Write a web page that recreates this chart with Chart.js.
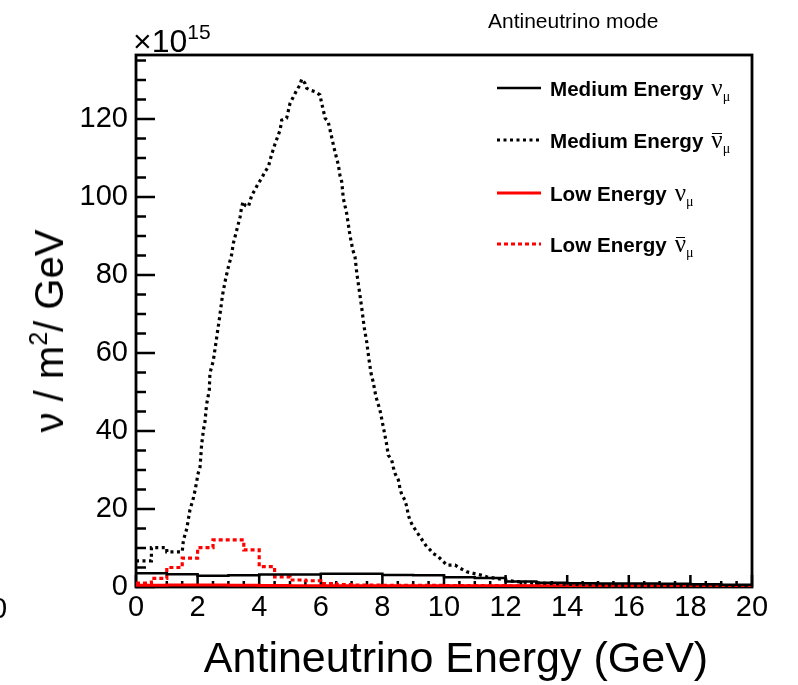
<!DOCTYPE html>
<html><head><meta charset="utf-8">
<script src="https://cdn.jsdelivr.net/npm/chart.js@4.4.1/dist/chart.umd.min.js"></script>
<style>
html,body{margin:0;padding:0;background:#fff;}
#wrap{position:relative;width:798px;height:685px;overflow:hidden;font-family:"Liberation Sans",Arial,Helvetica,sans-serif;color:#000;background:#fff;}
canvas{position:absolute;left:0;top:0;}
.t{position:absolute;white-space:nowrap;line-height:1;}
.leg{position:absolute;white-space:nowrap;line-height:1;font-size:20.6px;font-weight:bold;left:550px;}
.nu{font-family:"Liberation Serif","DejaVu Serif",serif;font-weight:normal;font-size:25px;margin-left:8px;}
.nu sub{font-size:14px;vertical-align:baseline;position:relative;top:5px;}
.bar{position:relative;display:inline-block;line-height:1;}
.bar::before{content:'';position:absolute;left:1px;right:1px;top:6px;border-top:1.6px solid #000;}
</style></head><body>
<div id="wrap">
<canvas id="c" width="798" height="685"></canvas>
<div class="t" style="left:488px;top:10px;font-size:21px;">Antineutrino mode</div>
<div class="t" style="left:133px;top:25px;font-size:32px;">×10<span style="font-size:21px;position:relative;top:-13px;">15</span></div>
<div class="leg" style="top:75px;">Medium Energy<span class="nu">ν<sub>μ</sub></span></div>
<div class="leg" style="top:127px;">Medium Energy<span class="nu"><span class="bar">ν</span><sub>μ</sub></span></div>
<div class="leg" style="top:180px;">Low Energy<span class="nu">ν<sub>μ</sub></span></div>
<div class="leg" style="top:231px;">Low Energy<span class="nu"><span class="bar">ν</span><sub>μ</sub></span></div>
<div class="t" style="left:49px;top:331px;font-size:40px;transform:translate(-50%,-50%) rotate(-90deg);">ν / m<span style="font-size:25px;position:relative;top:-16px;">2</span>/ GeV</div>
<div class="t" style="left:456px;top:636px;font-size:43px;transform:translateX(-50%);">Antineutrino Energy (GeV)</div>
<div class="t" style="left:-9px;top:594px;font-size:29px;">0</div>
</div>
<script>
// ---- data (energies in GeV, flux in units of 1e15 nu/m^2/GeV) ----
const xTicks = [0, 2, 4, 6, 8, 10, 12, 14, 16, 18, 20];
const yTicks = [0, 20, 40, 60, 80, 100, 120];
const yMax = 136.4;

// Medium Energy nu_mu (1 GeV bins, starting edges)
const meNumuEdges = [0,1,2,3,4,5,6,7,8,9,10,11,12,13,14,15,16,17,18,19,20];
const meNumuVals  = [3.5,3.3,2.9,3.0,3.2,3.2,3.4,3.4,3.1,3.0,2.5,2.3,1.4,1.1,0.95,0.9,0.9,0.85,0.7,0.6];

// Medium Energy anti-nu_mu
const meAntiE = [0,0.5,0.5,1.0,1.0,1.5,1.54,1.65,1.75,1.86,1.92,2.02,2.08,2.13,2.19,2.24,2.29,2.38,2.40,2.51,2.62,2.71,2.81,2.91,3.0,3.1,3.16,3.27,3.38,3.43,3.48,3.55,3.65,3.76,3.86,3.97,4.08,4.19,4.30,4.40,4.51,4.62,4.68,4.73,4.89,4.94,5.0,5.11,5.22,5.32,5.38,5.49,5.54,5.65,5.81,5.97,6.03,6.08,6.14,6.24,6.30,6.41,6.46,6.57,6.62,6.68,6.73,6.84,6.95,7.04,7.11,7.17,7.25,7.33,7.41,7.49,7.56,7.63,7.70,7.79,7.92,8.03,8.14,8.19,8.30,8.35,8.41,8.52,8.57,8.63,8.73,8.79,8.84,8.90,9.0,9.11,9.22,9.33,9.44,9.55,9.65,9.81,9.98,10.09,10.36,10.52,10.74,10.95,11.17,11.39,11.71,12.0,12.3,12.7,13.2,14,15,16,17,18,19,20];
const meAntiV = [6.7,6.7,10.1,10.1,9.0,9.0,12,15,19.7,22.7,24.9,29.2,30.8,36.4,40.3,42.4,46.7,50.5,54.8,58,64,68.9,74.9,79,82.1,85,88.1,91.5,94.9,97.5,98.8,97.8,97.5,100.5,101.8,103.5,104.8,106.5,107.8,110.8,113.5,115.9,117.2,119.7,120.2,121.9,124,125.7,127.4,128.7,130.2,129.1,127.9,127.4,127,126.2,124,122.3,120.2,119.3,117.2,113.3,111.6,108.2,105.6,103.9,99.7,95.8,90,86.4,84.7,80.4,76,71.5,66.5,62.9,58.6,54.8,52.6,48.8,45.4,41,36.5,33.8,32.6,30.8,29.1,27.4,25.3,23.6,22.3,20.6,18.5,17,15.5,14.2,12.9,11.6,10.3,9.5,8.6,7.8,6.5,5.6,5.6,4.8,3.9,3.5,3.1,2.6,2.2,1.8,1.4,1.2,1.0,0.7,0.5,0.4,0.3,0.25,0.2,0.15];

// Low Energy nu_mu (1 GeV bins)
const leNumuEdges = [0,1,2,3,4,5,6,7,8,9,10,11,12,13,14,15,16,17,18,19,20];
const leNumuVals  = [0.45,0.5,0.5,0.45,0.4,0.35,0.3,0.3,0.3,0.3,0.3,0.3,0.3,0.3,0.3,0.3,0.3,0.3,0.3,0.3];

// Low Energy anti-nu_mu (0.5 GeV bins)
const leAntiEdges = [0,0.5,1,1.5,2,2.5,3,3.5,4,4.5,5,5.5,6,6.5,7,8,10,12,14,16,20];
const leAntiVals  = [1.0,2.2,5.0,7.4,10.1,12.1,12.1,9.5,5.2,2.6,1.8,1.6,0.9,0.6,0.5,0.4,0.35,0.3,0.3,0.25];

function stepPts(edges, vals){
  const pts = vals.map((v,i)=>({x:edges[i], y:v}));
  pts.push({x:edges[edges.length-1], y:vals[vals.length-1]});
  return pts;
}
const FONT = '"Liberation Sans", Arial, Helvetica, sans-serif';

const rootFrame = {
  id:'rootFrame',
  beforeDatasetsDraw(chart){
    const {ctx, chartArea:{left,right,top,bottom}, scales:{x,y}} = chart;
    ctx.save();
    ctx.strokeStyle='#000'; ctx.lineWidth=2.8; ctx.lineCap='butt';
    ctx.strokeRect(left,top,right-left,bottom-top);
    ctx.beginPath();
    ctx.lineWidth=2.5;
    for(let i=0;i<=40;i++){
      const v=i*0.5, px=x.getPixelForValue(v), len=(i%4===0)?12:6;
      ctx.moveTo(px,bottom); ctx.lineTo(px,bottom-len);
    }
    for(let i=0;i*5<=yMax;i++){
      const v=i*5, py=y.getPixelForValue(v), len=(i%4===0)?19:10;
      ctx.moveTo(left,py); ctx.lineTo(left+len,py);
    }
    ctx.stroke();
    ctx.restore();
  }
};
const legendRows = [88,140,193,244];
const legendLines = {
  id:'legendLines',
  afterDatasetsDraw(chart){
    const ctx=chart.ctx;
    chart.data.datasets.forEach((ds,i)=>{
      ctx.save();
      ctx.strokeStyle=ds.borderColor; ctx.lineWidth=ds.borderWidth;
      ctx.setLineDash(ds.borderDash||[]);
      ctx.beginPath(); ctx.moveTo(497,legendRows[i]); ctx.lineTo(541,legendRows[i]); ctx.stroke();
      ctx.restore();
    });
  }
};

new Chart(document.getElementById('c'), {
  type:'line',
  data:{datasets:[
    {label:'Medium Energy ν_μ', data:stepPts(meNumuEdges,meNumuVals), stepped:'before', borderColor:'#000', borderWidth:2.5, borderDash:[]},
    {label:'Medium Energy anti-ν_μ', data:meAntiE.map((e,i)=>({x:e,y:meAntiV[i]})), borderColor:'#000', borderWidth:3.2, borderDash:[3,3.5]},
    {label:'Low Energy ν_μ', data:stepPts(leNumuEdges,leNumuVals), stepped:'before', borderColor:'#ff0000', borderWidth:3, borderDash:[]},
    {label:'Low Energy anti-ν_μ', data:stepPts(leAntiEdges,leAntiVals), stepped:'before', borderColor:'#ff0000', borderWidth:3.2, borderDash:[4,3]}
  ]},
  options:{
    responsive:false, animation:false, devicePixelRatio:1,
    layout:{padding:{left:0,top:55,right:46,bottom:0}},
    plugins:{legend:{display:false}, tooltip:{enabled:false}},
    elements:{point:{radius:0}, line:{tension:0, fill:false}},
    scales:{
      x:{type:'linear', min:0, max:20,
         afterBuildTicks:s=>{s.ticks=xTicks.map(v=>({value:v}));},
         afterFit:s=>{s.height=98;},
         grid:{display:false, drawTicks:false}, border:{display:false},
         ticks:{font:{size:29,family:FONT}, color:'#000', padding:4, maxRotation:0, autoSkip:false}},
      y:{type:'linear', min:0, max:yMax,
         afterBuildTicks:s=>{s.ticks=yTicks.map(v=>({value:v}));},
         afterFit:s=>{s.width=136;},
         grid:{display:false, drawTicks:false}, border:{display:false},
         ticks:{font:{size:29,family:FONT}, color:'#000', padding:8, autoSkip:false}}
    }
  },
  plugins:[rootFrame, legendLines]
});
</script>
</body></html>
